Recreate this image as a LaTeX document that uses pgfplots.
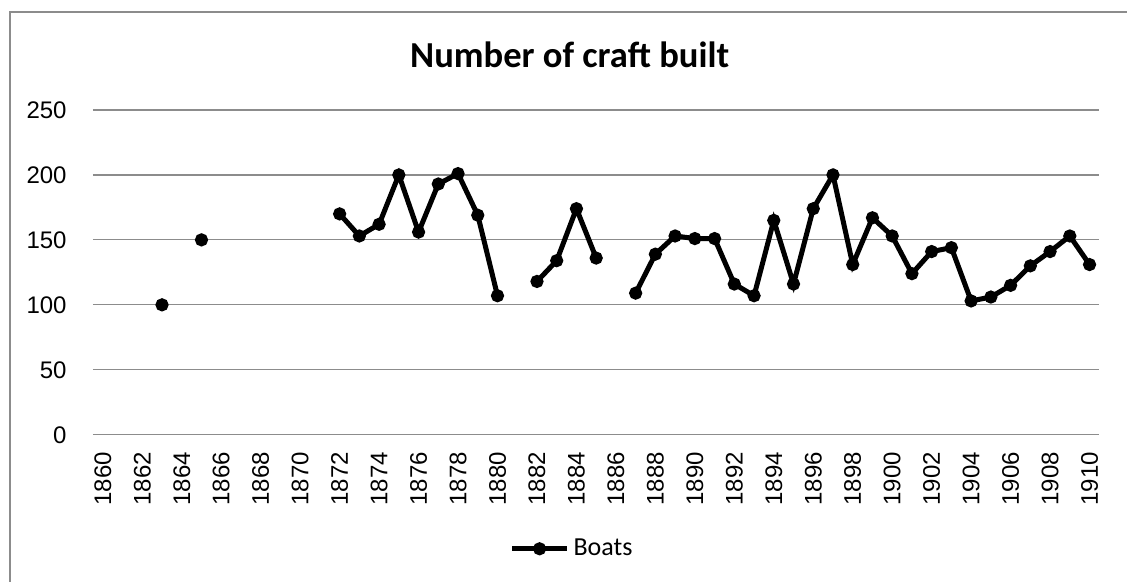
\documentclass[border=0pt]{standalone}
\usepackage{fontspec}
\setmainfont{Carlito}
\newfontfamily\arial{Liberation Sans}
\usepackage{pgfplots}
\pgfplotsset{compat=1.18}
\definecolor{gridgray}{HTML}{8C8C8C}
\begin{document}
\begin{tikzpicture}
  % page = 1128 x 582 px at 0.5pt per px
  \path (0,0) rectangle (564pt,291pt);
  \draw[gridgray, line width=0.6pt] (5pt,0) -- (5pt,285pt) -- (564pt,285pt);
  \node[font=\fontsize{18.3}{20}\selectfont\bfseries] at (285pt,263.5pt) {Number of craft built};
  \begin{axis}[
    at={(46.5pt,73.5pt)}, anchor=south west,
    scale only axis, width=503.5pt, height=162.5pt,
    xmin=1859.5, xmax=1910.5,
    ymin=0, ymax=250,
    xtick={1860,1862,...,1910},
    ytick={0,50,...,250},
    ymajorgrids, grid style={gridgray, line width=0.6pt},
    axis line style={draw=none},
    major tick length=0pt,
    /pgf/number format/assume math mode=true,
    /pgf/number format/1000 sep={},
    tick label style={font=\fontsize{12}{14}\arial},
    xticklabel style={rotate=90, anchor=east, inner sep=0pt},
    xticklabel shift=8.5pt,
    yticklabel style={inner sep=0pt},
    yticklabel shift=13pt,
    unbounded coords=jump,
    legend style={at={(0.477,-0.351)}, anchor=center, draw=none, fill=none,
      font=\fontsize{13}{15}\selectfont, inner sep=0pt},
    legend image code/.code={
      \draw[mark repeat=2, mark phase=2] plot coordinates {(0pt,0pt) (13.75pt,0pt) (27.5pt,0pt)};},
  ]
    \addplot[black, line width=2.5pt, mark=*, mark size=2pt] coordinates {
      (1863,100) (1864,nan) (1865,150) (1866,nan)
      (1872,170) (1873,153) (1874,162) (1875,200) (1876,156) (1877,193)
      (1878,201) (1879,169) (1880,107) (1881,nan)
      (1882,118) (1883,134) (1884,174) (1885,136) (1886,nan)
      (1887,109) (1888,139) (1889,153) (1890,151) (1891,151) (1892,116)
      (1893,107) (1894,165) (1895,116) (1896,174) (1897,200) (1898,131)
      (1899,167) (1900,153) (1901,124) (1902,141) (1903,144) (1904,103)
      (1905,106) (1906,115) (1907,130) (1908,141) (1909,153) (1910,131)
    };
    \addlegendentry{Boats}
  \end{axis}
\end{tikzpicture}
\end{document}
